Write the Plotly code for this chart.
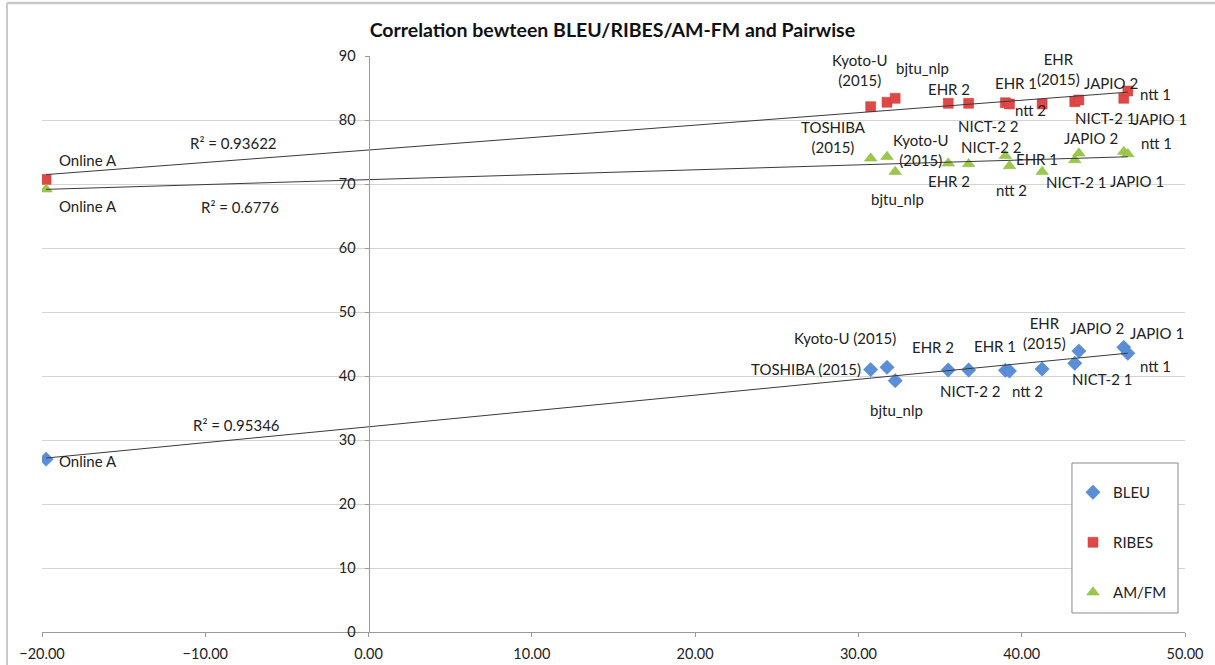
import numpy as np
import plotly.graph_objects as go

# ---------------- data ----------------
systems = ["Online A", "TOSHIBA (2015)", "Kyoto-U (2015)", "bjtu_nlp", "EHR 2", "NICT-2 2",
           "EHR 1", "ntt 2", "EHR (2015)", "NICT-2 1", "JAPIO 2", "JAPIO 1", "ntt 1"]
pairwise = [-19.75, 30.75, 31.75, 32.25, 35.5, 36.75, 39.0, 39.25, 41.25, 43.25, 43.5, 46.25, 46.5]
bleu = [27.0, 41.0, 41.36, 39.27, 40.94, 40.94, 40.89, 40.78, 41.09, 41.98, 43.9, 44.48, 43.55]
ribes = [70.73, 82.08, 82.77, 83.39, 82.61, 82.61, 82.70, 82.5, 82.5, 82.86, 83.13, 83.39, 84.53]
amfm = [69.17, 74.02, 74.27, 71.92, 73.23, 73.13, 74.42, 72.81, 71.92, 73.75, 74.8, 75.05, 74.69]
r2_labels = {"BLEU": "R² = 0.95346", "RIBES": "R² = 0.93622", "AM/FM": "R² = 0.6776"}
x_ticks = [-20, -10, 0, 10, 20, 30, 40, 50]
y_ticks = [0, 10, 20, 30, 40, 50, 60, 70, 80, 90]

# label texts (None = no label shown)
bleu_text = ["Online A", "TOSHIBA (2015)", "Kyoto-U (2015)", "bjtu_nlp", "EHR 2", "NICT-2 2",
             "EHR 1", "ntt 2", "EHR<br>(2015)", "NICT-2 1", "JAPIO 2", "JAPIO 1", "ntt 1"]
ribes_text = ["Online A", None, "Kyoto-U<br>(2015)", "bjtu_nlp", "EHR 2", "NICT-2 2",
              "EHR 1", "ntt 2", "EHR<br>(2015)", "NICT-2 1", "JAPIO 2", "JAPIO 1", "ntt 1"]
amfm_text = ["Online A", "TOSHIBA<br>(2015)", "Kyoto-U<br>(2015)", "bjtu_nlp", "EHR 2", "NICT-2 2",
             "EHR 1", "ntt 2", None, "NICT-2 1", "JAPIO 2", "JAPIO 1", "ntt 1"]

# ---------------- styles (label offsets in px: dx right, dy down) ----------------
bleu_off = [(42, 2), (-65, -1), (-42, -29), (1, 29), (-15, -23), (1, 21), (-10, -24), (18, 20),
            (2, -36), (27, 16), (18, -23), (33, -14), (28, 13)]
ribes_off = [(42, -19), (0, 0), (-27, -32), (27, -30), (1, -14), (19, 23), (11, -20), (21, 6),
             (16, -35), (30, 16), (32, -17), (36, 21), (28, 3)]
amfm_off = [(42, 17), (-37, -21), (34, -7), (2, 27), (1, 18), (22, -17), (32, 3), (2, 24),
            (0, 0), (1, 22), (12, -15), (13, 29), (29, -11)]
r2_pos = {"BLEU": (-8.1, 32.3), "RIBES": (-8.3, 76.45), "AM/FM": (-7.9, 66.4)}

FONT = "Lato"
TXT = "#222222"
series = [
    ("BLEU", bleu, bleu_text, bleu_off, dict(symbol="diamond", size=11, color="#5A8FD8",
                                             line=dict(color="#4A7CC0", width=0.5))),
    ("RIBES", ribes, ribes_text, ribes_off, dict(symbol="square", size=10, color="#E04848",
                                                  line=dict(color="#C83A3A", width=0.5))),
    ("AM/FM", amfm, amfm_text, amfm_off, dict(symbol="triangle-up", size=11, color="#9CC84A",
                                               line=dict(color="#88B43C", width=0.5))),
]

fig = go.Figure()
annotations = []
xs = np.array(pairwise)
for i, (name, vals, texts, offs, mk) in enumerate(series):
    fig.add_trace(go.Scatter(x=pairwise, y=vals, mode="markers", name=name, marker=mk,
                             legendgroup=name, showlegend=True, hoverinfo="x+y"))
    # linear trendline
    slope, icpt = np.polyfit(xs, np.array(vals), 1)
    tx = np.array([xs.min(), xs.max()])
    fig.add_trace(go.Scatter(x=tx, y=slope * tx + icpt, mode="lines",
                             line=dict(color="#3a3a3a", width=1), showlegend=False,
                             hoverinfo="skip"))
    for x, y, t, (dx, dy) in zip(pairwise, vals, texts, offs):
        if t is None:
            continue
        annotations.append(dict(x=x, y=y, xref="x", yref="y", text=t, showarrow=False,
                                xshift=dx, yshift=-dy, font=dict(family=FONT, size=15, color=TXT),
                                xanchor="center", yanchor="middle"))
    rx, ry = r2_pos[name]
    annotations.append(dict(x=rx, y=ry, xref="x", yref="y", text=r2_labels[name], showarrow=False,
                            font=dict(family=FONT, size=15, color=TXT)))

# frame lines of the chart area (left and top edges) and legend box
shapes = [
    dict(type="line", xref="paper", yref="paper", x0=-0.0306, x1=-0.0306, y0=-0.06, y1=1.092,
         line=dict(color="#b8b8b8", width=1.5)),
    dict(type="line", xref="paper", yref="paper", x0=-0.0306, x1=1.03, y0=1.092, y1=1.092,
         line=dict(color="#c8c8c8", width=2.5)),
    dict(type="rect", xref="paper", yref="paper", x0=0.9011, x1=0.9939, y0=0.033, y1=0.2934,
         fillcolor="white", line=dict(color="#8a8a8a", width=1), layer="above"),
]

fig.update_layout(
    width=1215, height=665,
    margin=dict(l=42, r=30, t=56, b=33, autoexpand=False),
    paper_bgcolor="white", plot_bgcolor="white",
    font=dict(family=FONT, size=14, color=TXT),
    title=dict(text="<b>Correlation bewteen BLEU/RIBES/AM-FM and Pairwise</b>",
               x=0.504, xref="container", y=1 - 30 / 665, yref="container",
               xanchor="center", yanchor="middle",
               font=dict(family=FONT, size=19.5, color="#111111")),
    xaxis=dict(range=[-20, 50], tickvals=x_ticks, tickformat=".2f", showgrid=False,
               zeroline=False, showline=True, linecolor="#9a9a9a", linewidth=1,
               ticks="outside", ticklen=4, tickcolor="#9a9a9a", ticklabelstandoff=5,
               automargin=False,
               tickfont=dict(family=FONT, size=14.5, color=TXT)),
    yaxis=dict(range=[0, 90], tickvals=y_ticks, showgrid=True, gridcolor="#d4d4d4",
               gridwidth=1, zeroline=False, showline=True, linecolor="#9a9a9a",
               anchor="free", position=20 / 70, ticks="outside", ticklen=4,
               tickcolor="#9a9a9a", ticklabelstandoff=6, automargin=False,
               tickfont=dict(family=FONT, size=14.5, color=TXT)),
    legend=dict(x=0.902, y=0.2708, xanchor="left", yanchor="top",
                bgcolor="rgba(0,0,0,0)", borderwidth=0,
                font=dict(family=FONT, size=15, color=TXT),
                tracegroupgap=27.5, itemwidth=30),
    annotations=annotations,
    shapes=shapes,
    showlegend=True,
)

fig.write_html("out.html", config={"displayModeBar": False},
               post_script="document.body.style.margin='0px';")
